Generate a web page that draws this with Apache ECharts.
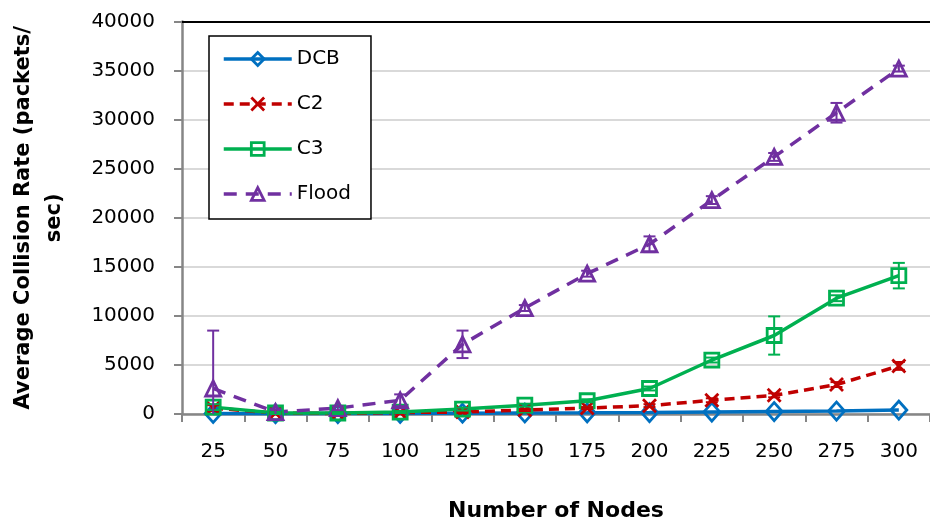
<!DOCTYPE html>
<html>
<head>
<meta charset="utf-8">
<script src="https://cdn.jsdelivr.net/npm/echarts@6/dist/echarts.min.js"></script>
<style>
  html, body { margin: 0; padding: 0; background: #fff; }
  #chart { width: 930px; height: 527px; }
</style>
</head>
<body>
<div id="chart"></div>
<script>
// Node counts on the x axis
const nodes = ['25', '50', '75', '100', '125', '150', '175', '200', '225', '250', '275', '300'];

// Average collision rate (packets/sec) per protocol
const dcb   = [50, 30, 40, 50, 80, 100, 120, 150, 200, 250, 300, 400];
const c2    = [600, 100, 50, 150, 200, 400, 600, 850, 1400, 1900, 3000, 4900];
const c3    = [700, 100, 100, 200, 500, 900, 1350, 2600, 5500, 8000, 11800, 14100];
const flood = [2600, 200, 600, 1400, 7100, 10800, 14300, 17300, 21800, 26200, 30700, 35200];

// Error bar half-widths (packets/sec)
const c2Err    = [300, 100, 50, 100, 100, 100, 100, 150, 200, 200, 250, 400];
const c3Err    = [300, 100, 100, 100, 150, 150, 150, 200, 250, 1950, 300, 1300];
const floodErr = [5900, 300, 200, 600, 1400, 300, 300, 800, 400, 400, 1000, 300];

const yTicks = { min: 0, max: 40000, step: 5000 };

const colors = { dcb: '#0070C0', c2: '#C00000', c3: '#00B050', flood: '#7030A0' };

const tickFont = 'DejaVu Sans';

function errorData(values, errs) {
  return values.map((v, i) => [i, Math.max(0, v - errs[i]), v + errs[i], v - errs[i] < 0 ? 0 : 1]);
}

function errorSeries(values, errs, color, z) {
  return {
    type: 'custom',
    silent: true,
    z: z,
    data: errorData(values, errs),
    encode: { x: 0, y: [1, 2] },
    renderItem: function (params, api) {
      const lo = api.coord([api.value(0), api.value(1)]);
      const hi = api.coord([api.value(0), api.value(2)]);
      const cap = 6;
      const style = { stroke: color, lineWidth: 2 };
      const children = [
        { type: 'line', shape: { x1: hi[0], y1: hi[1], x2: lo[0], y2: lo[1] }, style: style },
        { type: 'line', shape: { x1: hi[0] - cap, y1: hi[1], x2: hi[0] + cap, y2: hi[1] }, style: style }
      ];
      if (api.value(3) === 1) {
        children.push({ type: 'line', shape: { x1: lo[0] - cap, y1: lo[1], x2: lo[0] + cap, y2: lo[1] }, style: style });
      }
      return { type: 'group', children: children };
    }
  };
}

function lineSeries(name, data, color, symbol, size, dash) {
  return {
    name: name,
    type: 'line',
    data: data,
    symbol: symbol,
    symbolSize: size,
    showAllSymbol: true,
    z: 3,
    lineStyle: { color: color, width: 3.5, type: dash || 'solid' },
    itemStyle: { color: 'rgba(255,255,255,0)', borderColor: color, borderWidth: 2.8 },
    emphasis: { disabled: true }
  };
}

const chart = echarts.init(document.getElementById('chart'), null, { renderer: 'canvas' });

chart.setOption({
  animation: false,
  backgroundColor: '#ffffff',
  grid: { left: 180, right: -5, top: 21.5, bottom: 112, containLabel: false },
  legend: {
    orient: 'vertical',
    left: 209,
    top: 36,
    padding: [12, 20, 14, 13],
    itemGap: 23,
    itemWidth: 68,
    itemHeight: 16,
    borderColor: '#000',
    borderWidth: 1.5,
    backgroundColor: '#fff',
    lineStyle: { width: 3.5 },
    itemStyle: { borderWidth: 2.8 },
    textStyle: { fontFamily: tickFont, fontSize: 20, color: '#000', lineHeight: 22 },
    data: ['DCB', 'C2', 'C3', 'Flood']
  },
  xAxis: [
    {
      type: 'category',
      data: nodes,
      boundaryGap: true,
      name: 'Number of Nodes',
      nameLocation: 'middle',
      nameGap: 86,
      nameTextStyle: { fontFamily: tickFont, fontWeight: 'bold', fontSize: 22, color: '#000' },
      axisLine: { lineStyle: { color: '#868686', width: 2.5 } },
      axisTick: { show: true, interval: 0, length: 8, lineStyle: { color: '#868686', width: 2 } },
      axisLabel: { interval: 0, margin: 28, fontFamily: tickFont, fontSize: 20, color: '#000' },
      splitLine: { show: false }
    },
    {
      type: 'category',
      data: nodes,
      position: 'top',
      axisLine: { lineStyle: { color: '#000', width: 2 } },
      axisTick: { show: false },
      axisLabel: { show: false },
      splitLine: { show: false }
    }
  ],
  yAxis: {
    type: 'value',
    min: yTicks.min,
    max: yTicks.max,
    interval: yTicks.step,
    name: 'Average Collision Rate (packets/\nsec)',
    nameLocation: 'middle',
    nameRotate: 90,
    nameGap: 112,
    nameTextStyle: { fontFamily: tickFont, fontWeight: 'bold', fontSize: 21, color: '#000', lineHeight: 31, align: 'center' },
    axisLine: { show: true, lineStyle: { color: '#868686', width: 2.5 } },
    axisTick: { show: true, length: 8, lineStyle: { color: '#868686', width: 2 } },
    axisLabel: { margin: 27, fontFamily: tickFont, fontSize: 20, color: '#000', formatter: v => String(v) },
    splitLine: { show: true, lineStyle: { color: '#d9d9d9', width: 2 } }
  },
  series: [
    lineSeries('DCB', dcb, colors.dcb, 'diamond', [16, 18]),
    lineSeries('C2', c2, colors.c2, 'path://M0,0L10,10M10,0L0,10', 13, [10, 6]),
    errorSeries(c2, c2Err, colors.c2, 4),
    lineSeries('C3', c3, colors.c3, 'rect', 14),
    errorSeries(c3, c3Err, colors.c3, 4),
    lineSeries('Flood', flood, colors.flood, 'triangle', 15, [13, 9]),
    errorSeries(flood, floodErr, colors.flood, 4)
  ]
});
</script>
</body>
</html>
